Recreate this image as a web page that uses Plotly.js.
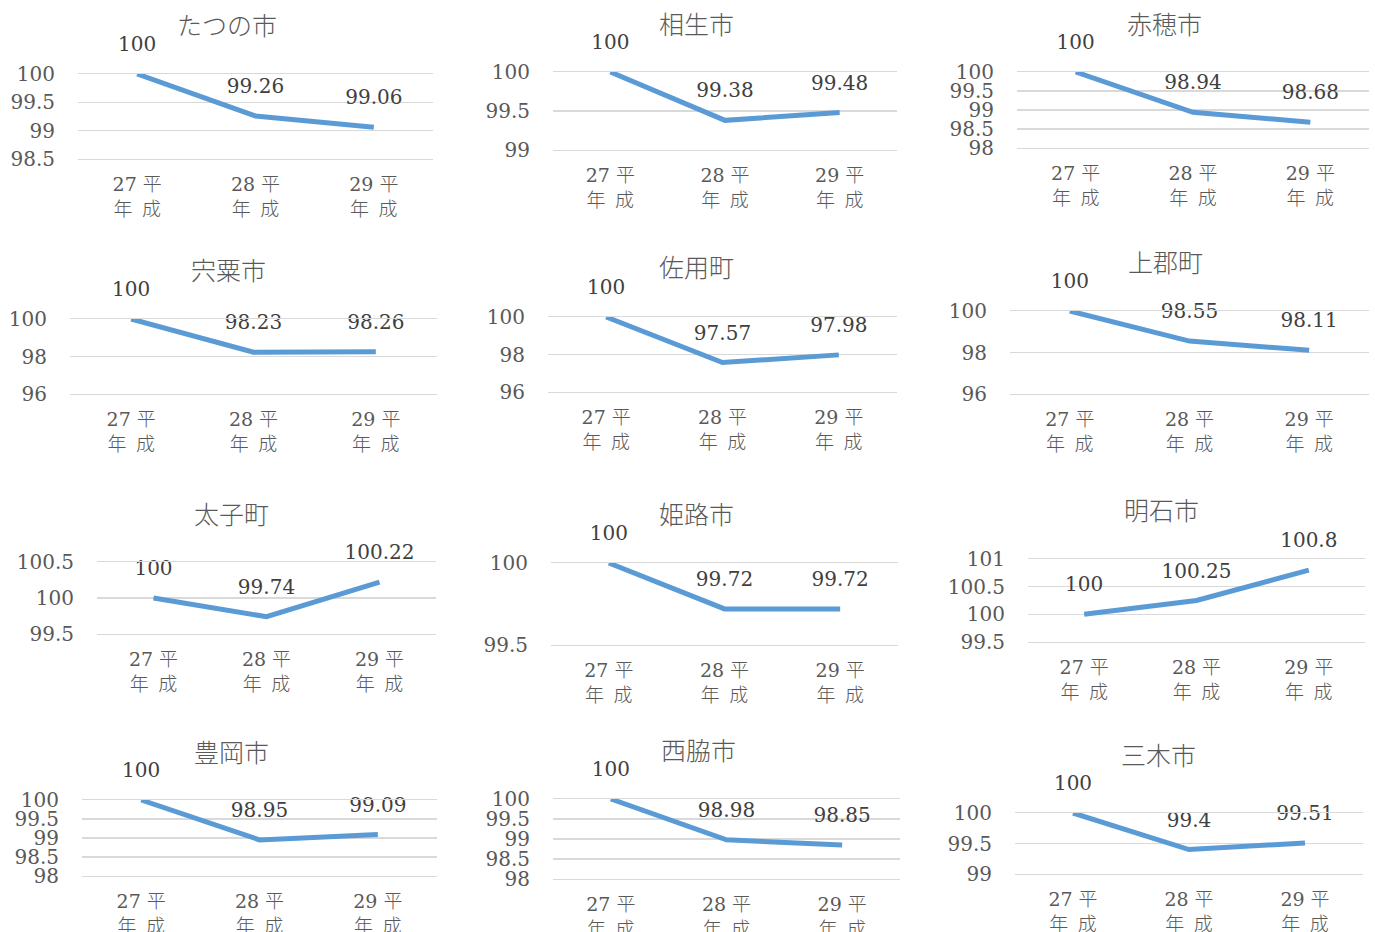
<!DOCTYPE html>
<html>
<head>
<meta charset="utf-8">
<script src="https://cdn.plot.ly/plotly-3.0.1.min.js"></script>
<style>
html,body{margin:0;padding:0;background:#fff;}
#chart{width:1375px;height:932px;}
</style>
</head>
<body>
<div id="chart"></div>
<script>
// ---- data ----
const years = ['平成27年', '平成28年', '平成29年'];
const cities = ['たつの市', '相生市', '赤穂市', '宍粟市', '佐用町', '上郡町', '太子町', '姫路市', '明石市', '豊岡市', '西脇市', '三木市'];
const tatsuno = [100, 99.26, 99.06];
const aioi = [100, 99.38, 99.48];
const ako = [100, 98.94, 98.68];
const shiso = [100, 98.23, 98.26];
const sayo = [100, 97.57, 97.98];
const kamigori = [100, 98.55, 98.11];
const taishi = [100, 99.74, 100.22];
const himeji = [100, 99.72, 99.72];
const akashi = [100, 100.25, 100.8];
const toyooka = [100, 98.95, 99.09];
const nishiwaki = [100, 98.98, 98.85];
const miki = [100, 99.4, 99.51];
const seriesValues = [tatsuno, aioi, ako, shiso, sayo, kamigori, taishi, himeji, akashi, toyooka, nishiwaki, miki];

const ticksTatsuno = [98.5, 99, 99.5, 100];
const ticksAioi = [99, 99.5, 100];
const ticksAko = [98, 98.5, 99, 99.5, 100];
const ticksShiso = [96, 98, 100];
const ticksSayo = [96, 98, 100];
const ticksKamigori = [96, 98, 100];
const ticksTaishi = [99.5, 100, 100.5];
const ticksHimeji = [99.5, 100];
const ticksAkashi = [99.5, 100, 100.5, 101];
const ticksToyooka = [98, 98.5, 99, 99.5, 100];
const ticksNishiwaki = [98, 98.5, 99, 99.5, 100];
const ticksMiki = [99, 99.5, 100];
const yTicks = [ticksTatsuno, ticksAioi, ticksAko, ticksShiso, ticksSayo, ticksKamigori, ticksTaishi, ticksHimeji, ticksAkashi, ticksToyooka, ticksNishiwaki, ticksMiki];

// ---- layout geometry (pixels): plot left, right, top (max gridline), bottom (min gridline), title x, title y ----
const boxes = [
  [78, 433, 74, 159, 227, 24],
  [553, 897, 72, 150, 696, 23],
  [1017, 1369, 72, 148, 1164, 23],
  [70, 437, 319, 394, 228, 269],
  [548, 897, 317, 392, 697, 266],
  [1010, 1369, 311, 394, 1165, 261],
  [97, 436, 562, 634, 231, 513],
  [551, 898, 563, 645, 696, 513],
  [1028, 1365, 559, 642, 1161, 509],
  [82, 437, 800, 876, 231, 751],
  [553, 900, 799, 879, 698, 749],
  [1015, 1363, 813, 874, 1158, 754]
];

const W = 1375, H = 932;
const numFont = 'DejaVu Serif, Noto Sans CJK JP, serif';

function tickLabel(s) {
  const era = s.slice(0, 2);
  const num = s.slice(2, s.length - 1);
  const nen = s.slice(s.length - 1);
  return num + '\u00A0' + era[0] + '<br>' + nen + '\u2002' + era[1];
}
const xTickText = years.map(tickLabel);

const data = [];
const layout = {
  width: W, height: H,
  margin: {l: 0, r: 0, t: 0, b: 0},
  paper_bgcolor: '#ffffff',
  plot_bgcolor: 'rgba(0,0,0,0)',
  showlegend: false,
  hovermode: false,
  annotations: []
};

boxes.forEach((b, i) => {
  const n = i + 1;
  const sfx = n === 1 ? '' : String(n);
  const ticks = yTicks[i];
  const lo = ticks[0], hi = ticks[ticks.length - 1];
  data.push({
    type: 'scatter',
    mode: 'lines+markers+text',
    x: years,
    y: seriesValues[i],
    xaxis: 'x' + sfx,
    yaxis: 'y' + sfx,
    line: {color: '#5B9BD5', width: 5},
    marker: {size: 27, color: 'rgba(0,0,0,0)'},
    text: seriesValues[i].map(v => String(v)),
    textposition: 'top center',
    textfont: {family: numFont, size: 20, color: '#404040'},
    cliponaxis: false
  });
  layout['xaxis' + sfx] = {
    domain: [b[0] / W, b[1] / W],
    anchor: 'y' + sfx,
    type: 'category',
    range: [-0.5, 2.5],
    tickmode: 'array',
    tickvals: years,
    ticktext: xTickText,
    showgrid: false,
    zeroline: false,
    showline: true,
    mirror: true,
    linecolor: '#D9D9D9',
    linewidth: 1.4,
    ticks: '',
    ticklabelstandoff: 8,
    tickfont: {family: numFont, size: 19, color: '#595959', weight: 300},
    fixedrange: true
  };
  layout['yaxis' + sfx] = {
    domain: [1 - b[3] / H, 1 - b[2] / H],
    anchor: 'x' + sfx,
    range: [lo, hi],
    tickmode: 'array',
    tickvals: ticks,
    ticktext: ticks.map(String),
    showgrid: true,
    gridcolor: '#D9D9D9',
    gridwidth: 1.4,
    zeroline: false,
    showline: false,
    ticks: '',
    ticklabelstandoff: 22,
    tickfont: {family: numFont, size: 20, color: '#595959'},
    fixedrange: true
  };
  layout.annotations.push({
    text: cities[i],
    xref: 'paper', yref: 'paper',
    x: b[4] / W, y: 1 - b[5] / H,
    xanchor: 'center', yanchor: 'middle',
    showarrow: false,
    font: {family: 'Noto Sans CJK JP, sans-serif', size: 25, color: '#595959', weight: 300}
  });
});

Plotly.newPlot('chart', data, layout, {displayModeBar: false, staticPlot: true});
</script>
</body>
</html>
